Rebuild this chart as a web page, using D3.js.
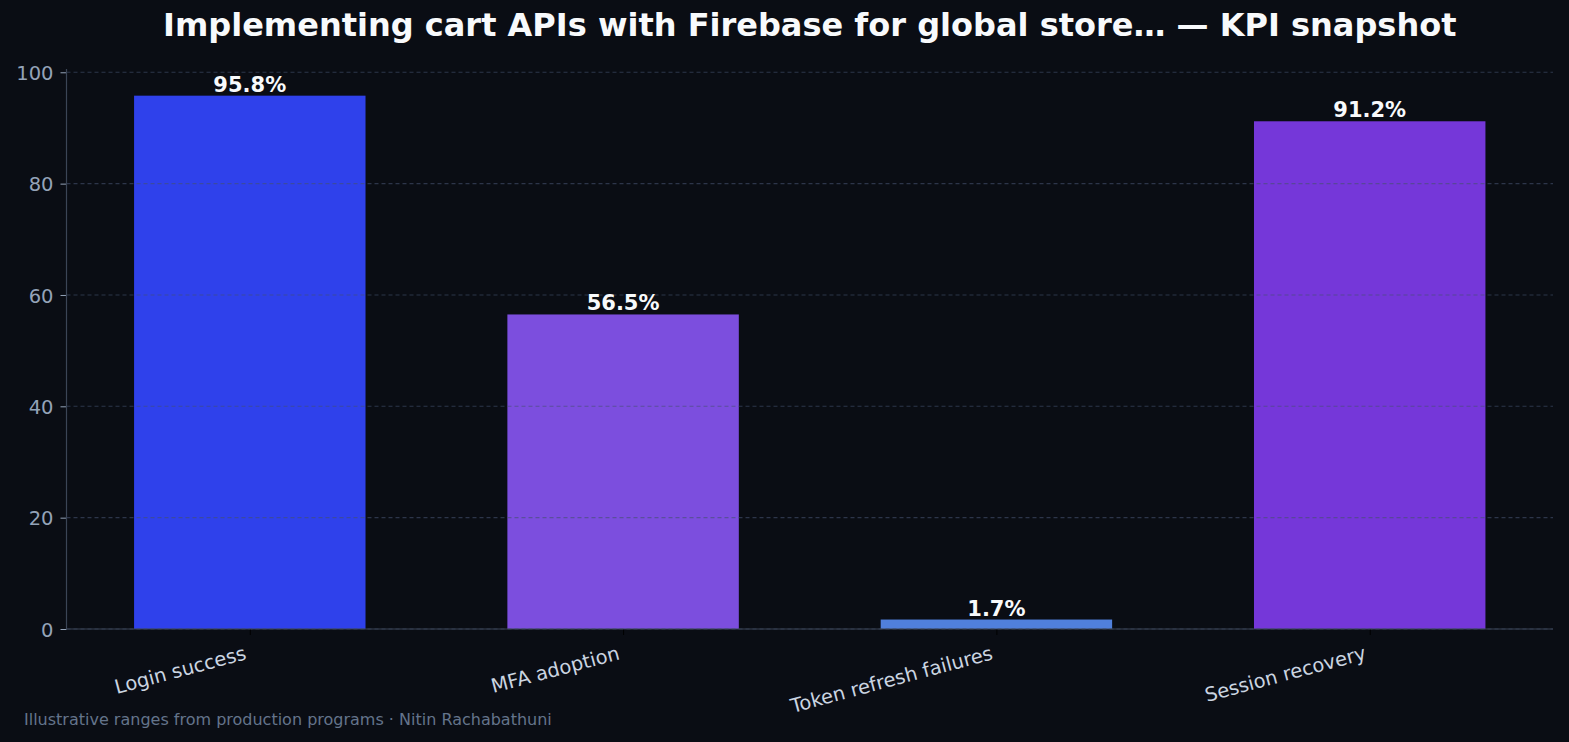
<!DOCTYPE html>
<html>
<head>
<meta charset="utf-8">
<script src="https://cdn.jsdelivr.net/npm/d3@7"></script>
<style>
  html, body { margin: 0; padding: 0; background: #0a0d14; }
  svg { display: block; font-family: 'DejaVu Sans', sans-serif; }
</style>
</head>
<body>
<svg id="canvas"></svg>
<script>
const categories = ['Login success', 'MFA adoption', 'Token refresh failures', 'Session recovery'];
const values = [95.8, 56.5, 1.7, 91.2];
const barColors = ['#2f41eb', '#7c4ede', '#5080dc', '#7537d9'];
const yTicks = [0, 20, 40, 60, 80, 100];

const title = 'Implementing cart APIs with Firebase for global store\u2026 \u2014 KPI snapshot';
const footer = 'Illustrative ranges from production programs \u00b7 Nitin Rachabathuni';

let width = 1569;
let height = 742;
let plotLeft = 66.5;
let plotRight = 1553;
let plotTop = 69;
let plotBottom = 629;

let canvas = d3.select('#canvas')
    .attr('width', width)
    .attr('height', height);

canvas.append('rect')
    .attr('width', width)
    .attr('height', height)
    .attr('fill', '#0a0d14');

// bar width 0.62, matplotlib-like 5% margins
const xScale = d3.scaleLinear()
    .domain([-0.491, categories.length - 1 + 0.491])
    .range([plotLeft, plotRight]);

const yScale = d3.scaleLinear()
    .domain([0, d3.max(values) * 1.05])
    .range([plotBottom, plotTop]);

const barWidth = xScale(0.62) - xScale(0);

// bars
canvas.selectAll('rect.bar')
    .data(values)
    .enter()
    .append('rect')
    .attr('class', 'bar')
    .attr('x', (d, i) => xScale(i) - barWidth / 2)
    .attr('y', d => yScale(d))
    .attr('width', barWidth)
    .attr('height', d => yScale(0) - yScale(d))
    .attr('fill', (d, i) => barColors[i]);

// grid on top of bars
canvas.append('g')
    .selectAll('line')
    .data(yTicks)
    .enter()
    .append('line')
    .attr('x1', plotLeft)
    .attr('x2', plotRight)
    .attr('y1', d => yScale(d))
    .attr('y2', d => yScale(d))
    .attr('stroke', '#45506e')
    .attr('stroke-opacity', 0.6)
    .attr('stroke-width', 1.1)
    .attr('stroke-dasharray', '4,3');

// y axis
const yAxis = d3.axisLeft(yScale)
    .tickValues(yTicks)
    .tickSize(6)
    .tickPadding(7)
    .tickFormat(d3.format('d'));

const yg = canvas.append('g')
    .attr('transform', 'translate(' + plotLeft + ',0)')
    .call(yAxis);
yg.select('.domain').remove();
yg.selectAll('line').attr('stroke', '#94a3b8');
yg.selectAll('text')
    .attr('fill', '#94a3b8')
    .attr('dy', '0.36em')
    .style('font-size', '19.5px')
    .style('font-family', "'DejaVu Sans', sans-serif");

canvas.append('line')
    .attr('x1', plotLeft).attr('x2', plotLeft)
    .attr('y1', plotTop).attr('y2', plotBottom)
    .attr('stroke', '#3b4556')
    .attr('stroke-width', 1.2);

// x axis
const xAxis = d3.axisBottom(xScale)
    .tickValues(d3.range(categories.length))
    .tickSize(6)
    .tickFormat(i => categories[i]);

const xg = canvas.append('g')
    .attr('transform', 'translate(0,' + plotBottom + ')')
    .call(xAxis);
xg.select('.domain').remove();
xg.selectAll('line').attr('stroke', '#000');
xg.selectAll('text')
    .attr('fill', '#cbd5e1')
    .style('font-size', '19.5px')
    .style('font-family', "'DejaVu Sans', sans-serif")
    .attr('text-anchor', 'end')
    .attr('dy', null)
    .attr('y', 0)
    .attr('transform', 'translate(-3,30) rotate(-15)');

canvas.append('line')
    .attr('x1', plotLeft).attr('x2', plotRight)
    .attr('y1', plotBottom).attr('y2', plotBottom)
    .attr('stroke', '#3b4556')
    .attr('stroke-width', 1.2);

// value labels
canvas.selectAll('text.val')
    .data(values)
    .enter()
    .append('text')
    .attr('class', 'val')
    .attr('x', (d, i) => xScale(i))
    .attr('y', d => yScale(d) - 4)
    .attr('text-anchor', 'middle')
    .attr('fill', '#f8fafc')
    .style('font-size', '21px')
    .style('font-weight', 'bold')
    .text(d => d.toFixed(1) + '%');

// title
canvas.append('text')
    .attr('x', (plotLeft + plotRight) / 2)
    .attr('y', 36)
    .attr('text-anchor', 'middle')
    .attr('fill', '#f8fafc')
    .style('font-size', '32px')
    .style('font-weight', 'bold')
    .text(title);

// footer
canvas.append('text')
    .attr('x', 24)
    .attr('y', 725)
    .attr('fill', '#64748b')
    .style('font-size', '16px')
    .text(footer);
</script>
</body>
</html>
